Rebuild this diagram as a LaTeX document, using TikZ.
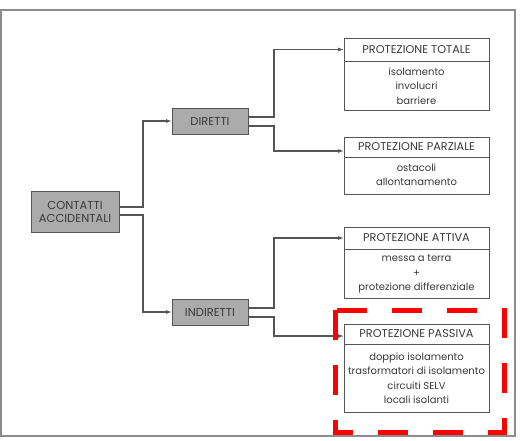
\documentclass[tikz,border=0pt]{standalone}
\usepackage{fontspec}
\setmainfont{Poppins}
\usetikzlibrary{arrows.meta,calc}
\definecolor{inkgray}{HTML}{3A3A3A}
\definecolor{edgegray}{HTML}{555555}
\definecolor{boxfill}{HTML}{ABABAB}
\definecolor{framegray}{HTML}{8C8C8C}
\definecolor{markred}{HTML}{FF0000}
\begin{document}
\begin{tikzpicture}[x=1pt,y=-1pt,
  every node/.style={inner sep=0pt,outer sep=0pt,text=inkgray},
  graybox/.style={draw=edgegray,line width=1pt,fill=boxfill,align=center,
    font=\fontsize{11.5}{13}\selectfont},
  protbox/.style={draw=edgegray,line width=0.9pt,fill=white,minimum width=145pt},
  headtxt/.style={minimum width=145pt,align=center,font=\fontsize{11.3}{12}\selectfont},
  bodytxt/.style={align=center,font=\fontsize{10}{14.3}\selectfont},
  conn/.style={draw=edgegray,line width=1.1pt,-{Latex[length=6pt,width=4pt]}}]
% page and outer frame
\useasboundingbox (0,0) rectangle (528,440);
\fill[white] (0,0) rectangle (528,440);
\draw[framegray,line width=2pt] (1,10) rectangle (515,436);

% grey category boxes
\node[graybox,minimum width=88pt,minimum height=41pt] (cont) at (75,211.5) {CONTATTI\\ACCIDENTALI};
\node[graybox,minimum width=76pt,minimum height=26pt] (dir) at (210,121) {DIRETTI};
\node[graybox,minimum width=76pt,minimum height=26pt] (ind) at (210,312) {INDIRETTI};

% protection boxes: frame, title strip, list
\node[protbox,minimum height=72pt] (tot) at (416.5,74) {};
\node[headtxt,minimum height=23pt,anchor=north] (totH) at (tot.north) {PROTEZIONE TOTALE};
\node[bodytxt,anchor=north] (totB) at ($(totH.south)+(0,7)$) {isolamento\\involucri\\barriere};

\node[protbox,minimum height=57pt] (parz) at (416.5,165.5) {};
\node[headtxt,minimum height=20pt,anchor=north] (parzH) at (parz.north) {PROTEZIONE PARZIALE};
\node[bodytxt,anchor=north] (parzB) at ($(parzH.south)+(0,7)$) {ostacoli\\allontanamento};

\node[protbox,minimum height=71pt] (att) at (416.5,262.5) {};
\node[headtxt,minimum height=22pt,anchor=north] (attH) at (att.north) {PROTEZIONE ATTIVA};
\node[bodytxt,anchor=north] (attB) at ($(attH.south)+(0,6)$) {messa a terra\\+\\protezione differenziale};

\node[protbox,minimum height=88pt] (pass) at (416.5,368) {};
\node[headtxt,minimum height=20pt,anchor=north] (passH) at (pass.north) {PROTEZIONE PASSIVA};
\node[bodytxt,anchor=north] (passB) at ($(passH.south)+(0,9)$) {doppio isolamento\\trasformatori di isolamento\\circuiti SELV\\locali isolanti};

\foreach \h in {totH,parzH,attH,passH}
  \draw[edgegray,line width=0.9pt] (\h.south west) -- (\h.south east);

% connectors
\draw[conn] ([yshift=4.5pt]cont.east) -- ++(24,0) |- (dir.west);
\draw[conn] ([yshift=-3.5pt]cont.east) -- ++(24,0) |- (ind.west);
\draw[conn] ([yshift=4pt]dir.east) -- ++(26,0) |- (totH.west);
\draw[conn] ([yshift=-5pt]dir.east) -- ++(26,0) |- ([yshift=-4pt]parzH.west);
\draw[conn] ([yshift=4pt]ind.east) -- ++(26,0) |- (attH.west);
\draw[conn] ([yshift=-5pt]ind.east) -- ++(26,0) |- ([yshift=-2pt]passH.west);

% highlight around the passive protection box
\draw[markred,line width=5pt,dash pattern=on 30pt off 25pt] (335,310) rectangle (504,432);
\end{tikzpicture}
\end{document}
